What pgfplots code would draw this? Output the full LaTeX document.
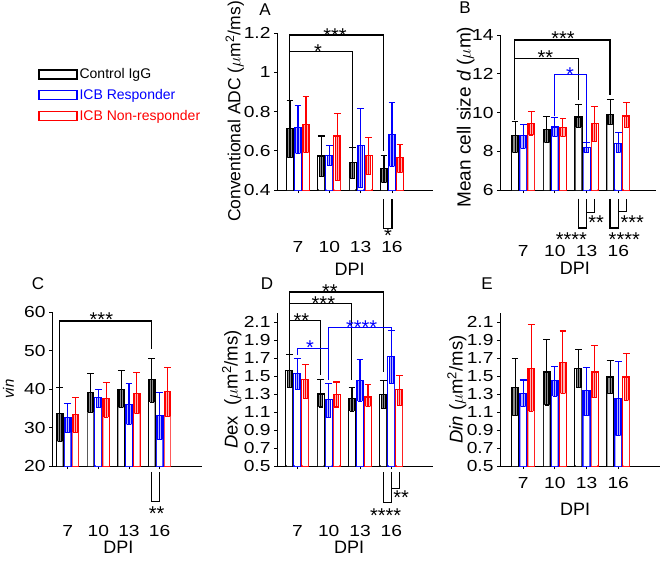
\documentclass[border=0pt]{standalone}
\usepackage{pgfplots}
\usepackage{pgfplotstable}
\pgfplotsset{compat=1.18}
\usepackage{fontspec}
\setmainfont{Liberation Sans}
\newfontfamily\tickfont{Liberation Sans}[FakeStretch=1.2]

\newcommand{\fs}{\tickfont\fontsize{16}{18}\selectfont}
\newcommand{\stf}{\fontsize{20}{20}\selectfont}

% columns: mean, lower end of inner box, top of error bar
\pgfplotstableread{
x k klo khi b blo bhi r rlo rhi
0 0.712 0.564 0.858 0.72 0.586 0.83 0.734 0.59 0.875
1 0.573 0.471 0.675 0.575 0.527 0.627 0.675 0.45 0.79
2 0.54 0.46 0.615 0.627 0.412 0.815 0.575 0.48 0.666
3 0.51 0.437 0.575 0.683 0.52 0.847 0.565 0.488 0.63
}\dataA
\pgfplotstableread{
x k klo khi b blo bhi r rlo rhi
0 8.79 7.93 9.53 8.82 8.15 9.39 9.42 8.84 10.03
1 9.13 8.44 9.79 9.25 8.75 9.75 9.22 8.75 9.67
2 9.77 9.24 10.39 8.19 7.93 8.44 9.44 8.5 10.3
3 9.9 9.36 10.65 8.41 7.93 8.98 9.82 9.24 10.5
}\dataB
\pgfplotstableread{
x k klo khi b blo bhi r rlo rhi
0 33.6 26.4 40.5 32.7 28.7 36.2 33.3 28.8 37.7
1 39.0 34.0 44.0 37.7 35.2 39.8 37.5 32.7 41.7
2 39.9 35.2 44.7 36.0 30.8 41.4 38.8 33.6 44.2
3 42.5 36.6 47.9 33.2 26.9 39.0 39.4 32.9 45.5
}\dataC
\pgfplotstableread{
x k klo khi b blo bhi r rlo rhi
0 1.563 1.37 1.74 1.526 1.348 1.69 1.46 1.25 1.63
1 1.3 1.156 1.46 1.237 1.037 1.42 1.293 1.156 1.433
2 1.248 1.11 1.37 1.45 1.22 1.68 1.267 1.163 1.407
3 1.296 1.137 1.452 1.718 1.415 2.007 1.352 1.174 1.507
}\dataD
\pgfplotstableread{
x k klo khi b blo bhi r rlo rhi
0 1.375 1.057 1.69 1.31 1.16 1.456 1.588 1.11 2.07
1 1.544 1.178 1.91 1.449 1.277 1.61 1.654 1.306 2.0
2 1.588 1.368 1.79 1.339 1.057 1.595 1.544 1.258 1.837
3 1.489 1.302 1.668 1.25 0.837 1.66 1.489 1.23 1.753
}\dataE

% one group of bars: table, shift, column, colour, inner fill
\newcommand{\series}[5]{%
\addplot[bar, bar shift=#2, draw=#4] table[x=x, y=#3] {#1};
\addplot[ybar, bar width=0.14, bar shift=#2, draw=#4, fill=#5, line width=1.1pt, forget plot] table[x=x, y=#3] {#1};
\addplot[ybar, bar width=0.18, bar shift=#2, draw=none, fill=white, forget plot] table[x=x, y=#3lo] {#1};
\addplot[draw=none, mark=none, forget plot,
  error bars/.cd, y dir=plus, y explicit, error mark=-,
  error bar style={draw=#4, line width=1.1pt},
  error mark options={rotate=90, draw=#4, line width=1.1pt, mark size=3.4pt}]
  table[x expr=\thisrow{x}+#2, y=#3, y error plus expr=\thisrow{#3hi}-\thisrow{#3}] {#1};
\addplot[draw=none, mark=none, forget plot,
  error bars/.cd, y dir=minus, y explicit, error mark=-,
  error bar style={draw=#4, line width=1.1pt},
  error mark options={rotate=90, draw=#4, line width=1.1pt, mark size=2.2pt}]
  table[x expr=\thisrow{x}+#2, y=#3, y error minus expr=\thisrow{#3}-\thisrow{#3lo}] {#1};
}
\newcommand{\groups}[1]{%
\series{#1}{-0.255}{k}{black}{black!45}
\series{#1}{0}{b}{blue}{blue!30}
\series{#1}{0.255}{r}{red}{red!30}
}

\pgfplotsset{
  panel/.style={scale only axis, anchor=south west,
    axis x line=bottom, axis y line=left, axis line style={-, line width=0.8pt},
    tick align=outside, major tick length=3pt, every tick/.style={black, line width=0.8pt},
    xtick={0,1,2,3}, xticklabels={7,10,13,16}, clip mode=individual,
    xlabel={DPI}, xlabel style={anchor=center, font=\fontsize{18}{20}\selectfont},
    ylabel style={anchor=center, font=\fontsize{20}{22}\selectfont},
    tick label style={font=\fs},
    /pgf/number format/assume math mode=true},
  bar/.style={ybar, bar width=0.22, fill=white, line width=1.1pt,
    legend image code/.code={\draw[##1, line width=1.2pt, fill=white] (0pt,-4.5pt) rectangle (38pt,4.5pt);}},
}
\tikzset{brk/.style={line width=1.1pt}, st/.style={anchor=base, yshift=-11.4pt, font=\stf, inner sep=0pt}}
\newcommand{\stars}[1]{\smash{#1}}

\begin{document}
\begin{tikzpicture}
\path[use as bounding box] (0,0) rectangle (660pt,560pt);

% ---------- A ----------
\begin{axis}[panel, at={(277pt,370pt)}, width=156pt, height=157pt,
  xmin=-0.67, xmax=4.31, ymin=0.4, ymax=1.2, ytick={0.4,0.6,0.8,1,1.2},
  ylabel={Conventional ADC ($\mu$m\textsuperscript{2}/ms)},
  ylabel style={at={(axis description cs:-0.27,0.5)}, font=\fontsize{17.5}{19}\selectfont},
  xticklabel style={yshift=-45pt},
  xlabel style={at={(axis description cs:0.465,0)}, yshift=-79pt},
  legend style={draw=none, fill=none, at={(axis description cs:-1.55,0.80)}, anchor=north west,
    font=\fontsize{14}{16}\selectfont, cells={anchor=west}, row sep=5pt}]
\groups{\dataA}
\legend{Control IgG, \textcolor{blue}{ICB Responder}, \textcolor{red}{ICB Non-responder}}
\draw[brk] (-0.26,0.86) |- (2.74,1.19) -- (2.74,0.6);
\draw[brk] (-0.26,1.105) -- (1.74,1.105) -- (1.74,0.62);
\draw[brk] (2.74,0.354) |- (3,0.206) -- (3,0.354);
\node[st] at (1.18,1.212) {\stars{***}};
\node[st] at (0.64,1.13) {\stars{*}};
\node[st] at (2.87,0.19) {\stars{*}};
\end{axis}

% ---------- B ----------
\begin{axis}[panel, at={(500pt,370pt)}, width=156pt, height=155pt,
  xmin=-0.73, xmax=4.19, ymin=6, ymax=14, ytick={6,8,10,12,14},
  ylabel={Mean cell size \textit{d} ($\mu$m)},
  ylabel style={at={(axis description cs:-0.22,0.47)}, font=\fontsize{19}{21}\selectfont},
  xticklabel style={yshift=-49pt},
  xlabel style={at={(axis description cs:0.48,0)}, yshift=-78pt}]
\groups{\dataB}
\draw[brk] (-0.26,9.6) |- (2.74,13.74) -- (2.74,10.9);
\draw[brk] (-0.26,12.81) -- (1.74,12.81) -- (1.74,10.65);
\draw[brk, blue] (1,9.8) |- (2,11.94) -- (2,8.5);
\draw[brk] (1.74,5.55) |- (2,4.04) -- (2,5.55);
\draw[brk] (2,4.86) -| (2.26,5.55);
\draw[brk] (2.74,5.55) |- (3,4.04) -- (3,5.55);
\draw[brk] (3,4.9) -| (3.26,5.55);
\node[st] at (1.26,14.04) {\stars{***}};
\node[st] at (0.7,13.09) {\stars{**}};
\node[st, text=blue] at (1.48,12.19) {\stars{*}};
\node[st] at (2.3,4.54) {\stars{**}};
\node[st] at (1.52,3.68) {\stars{****}};
\node[st] at (3.44,4.54) {\stars{***}};
\node[st] at (3.19,3.68) {\stars{****}};
\end{axis}

% ---------- C ----------
\begin{axis}[panel, at={(52pt,94pt)}, width=150pt, height=154pt,
  xmin=-0.51, xmax=4.38, ymin=20, ymax=60, ytick={20,30,40,50,60},
  ylabel={\textit{vin}},
  ylabel style={at={(axis description cs:-0.29,0.5)}, font=\fontsize{15}{17}\selectfont},
  xticklabel style={yshift=-53pt},
  xlabel style={at={(axis description cs:0.443,0)}, yshift=-81pt}]
\groups{\dataC}
\draw[brk] (-0.26,40.5) |- (2.74,57.66) -- (2.74,50.4);
\draw[brk] (2.74,18.5) |- (3,10.7) -- (3,18.5);
\node[st] at (1.1,59.2) {\stars{***}};
\node[st] at (2.9,8.75) {\stars{**}};
\end{axis}

% ---------- D ----------
\begin{axis}[panel, at={(277pt,94pt)}, width=156pt, height=153pt,
  xmin=-0.65, xmax=4.33, ymin=0.5, ymax=2.2, ytick={0.5,0.7,0.9,1.1,1.3,1.5,1.7,1.9,2.1},
  ylabel={\textit{D}ex\ \ ($\mu$m\textsuperscript{2}/ms)},
  ylabel style={at={(axis description cs:-0.29,0.5)}, font=\fontsize{18.5}{20}\selectfont},
  xticklabel style={yshift=-53pt},
  xlabel style={at={(axis description cs:0.462,0)}, yshift=-81pt}]
\groups{\dataD}
\draw[brk] (-0.26,1.74) |- (2.74,2.433) -- (2.74,1.548);
\draw[brk] (-0.26,2.31) -- (1.74,2.31) -- (1.74,1.455);
\draw[brk] (-0.26,2.114) -- (0.74,2.114) -- (0.74,1.51);
\draw[brk, blue] (0,1.733) -- (0,1.808) -- (1,1.808) -- (1,1.455);
\draw[brk, blue] (1,1.808) |- (3,2.037) -- (3,2.007);
\draw[brk] (2.74,0.433) |- (3,0.092) -- (3,0.433);
\draw[brk] (3,0.252) -| (3.26,0.433);
\node[st] at (1.04,2.49) {\stars{**}};
\node[st] at (0.83,2.35) {\stars{***}};
\node[st] at (0.13,2.167) {\stars{**}};
\node[st, text=blue] at (0.4,1.87) {\stars{*}};
\node[st, text=blue] at (2.05,2.09) {\stars{****}};
\node[st] at (3.31,0.2) {\stars{**}};
\node[st] at (2.82,0.003) {\stars{****}};
\end{axis}

% ---------- E ----------
\begin{axis}[panel, at={(500pt,94pt)}, width=160pt, height=153pt,
  xmin=-0.73, xmax=4.32, ymin=0.5, ymax=2.2, ytick={0.5,0.7,0.9,1.1,1.3,1.5,1.7,1.9,2.1},
  ylabel={\textit{Din} ($\mu$m\textsuperscript{2}/ms)},
  ylabel style={at={(axis description cs:-0.27,0.5)}, font=\fontsize{18.5}{20}\selectfont},
  xticklabel style={yshift=-5pt},
  xlabel style={at={(axis description cs:0.47,0)}, yshift=-43pt}]
\groups{\dataE}
\end{axis}

\node[font=\fontsize{17}{17}\selectfont] at (265pt,550pt) {A};
\node[font=\fontsize{17}{17}\selectfont] at (465pt,552pt) {B};
\node[font=\fontsize{17}{17}\selectfont] at (38pt,276pt) {C};
\node[font=\fontsize{17}{17}\selectfont] at (267pt,276pt) {D};
\node[font=\fontsize{17}{17}\selectfont] at (487pt,276pt) {E};
\end{tikzpicture}
\end{document}
